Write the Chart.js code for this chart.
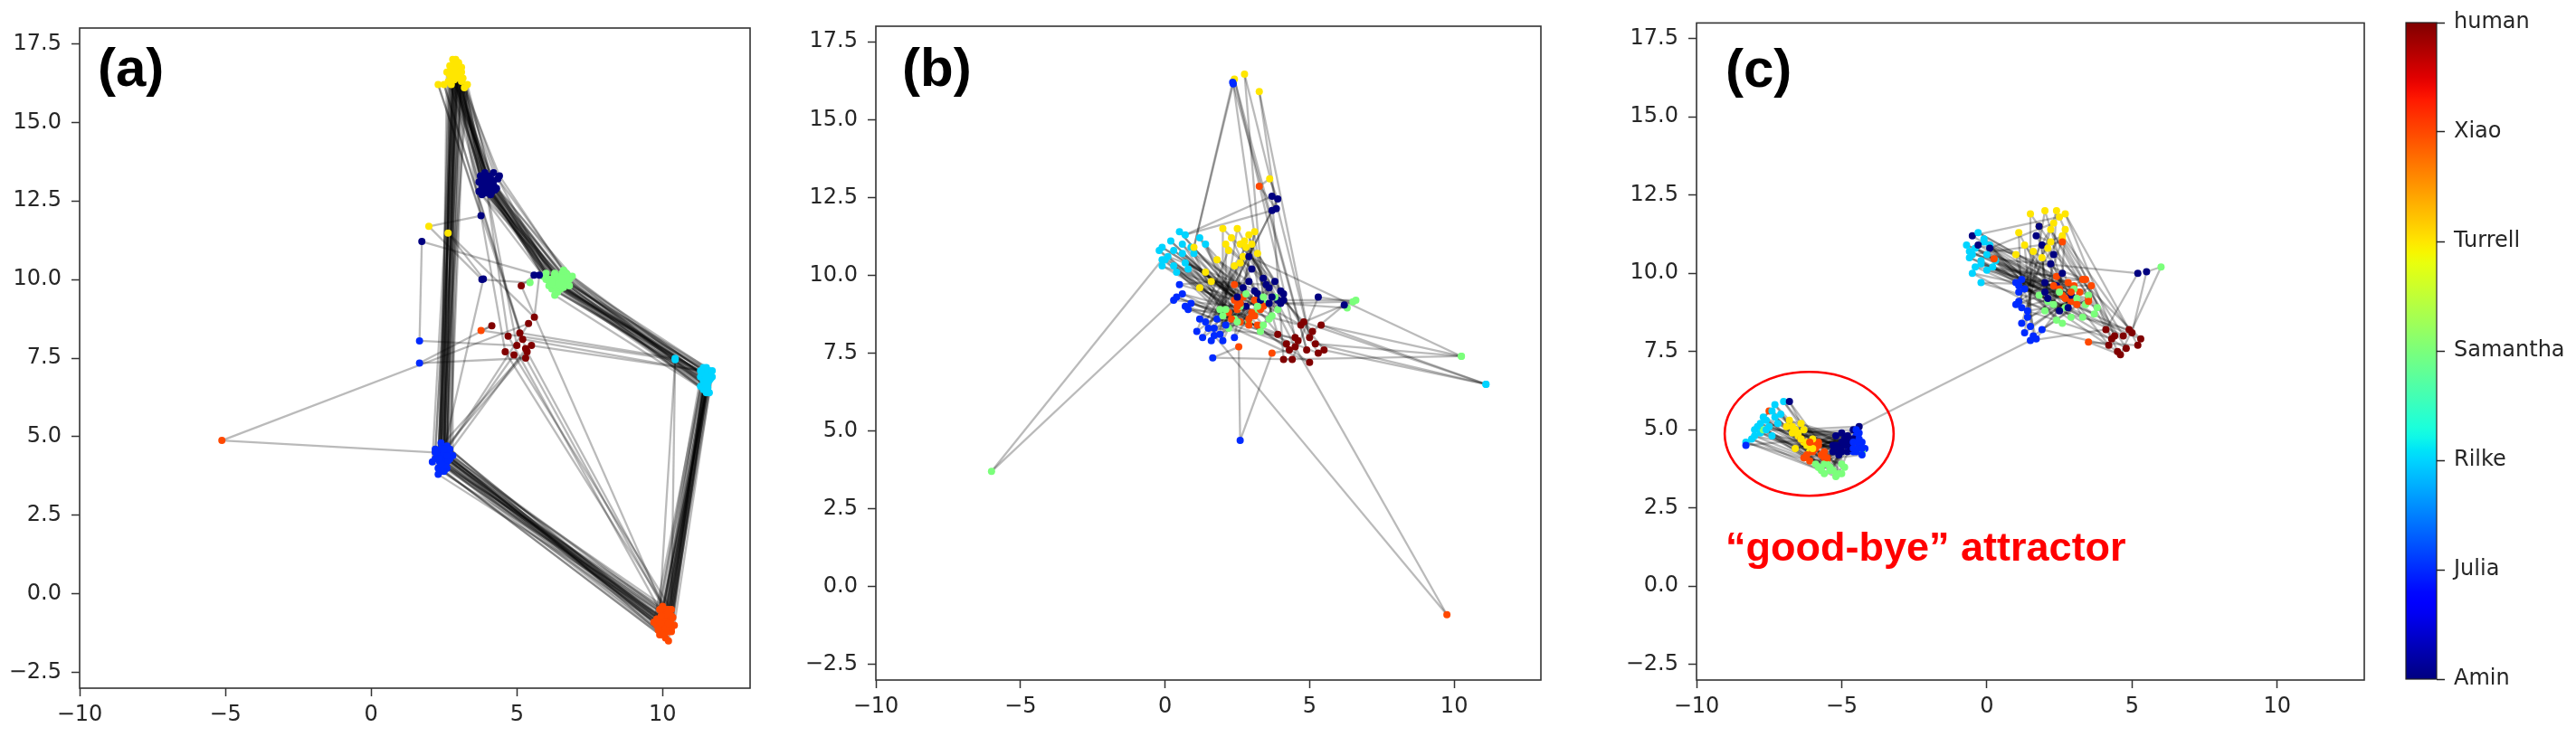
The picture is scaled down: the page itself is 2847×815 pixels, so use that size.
<!DOCTYPE html>
<html>
<head>
<meta charset="utf-8">
<script src="https://cdn.jsdelivr.net/npm/chart.js@4.4.1/dist/chart.umd.min.js"></script>
<style>
html,body{margin:0;padding:0;background:#fff;width:2847px;height:815px;overflow:hidden;}
.pane{position:absolute;top:0;height:815px;}
</style>
</head>
<body>
<div class="pane" style="left:0;width:860px"><canvas id="ca"></canvas></div>
<div class="pane" style="left:880px;width:850px"><canvas id="cb"></canvas></div>
<div class="pane" style="left:1787px;width:850px"><canvas id="cc"></canvas></div>
<div class="pane" style="left:2640px;width:207px"><canvas id="cbar"></canvas></div>
<script>
// ---------------- DATA ----------------
const speakerNames = ['Amin','Julia','Rilke','Samantha','Turrell','Xiao','human'];
const xTicks = [-10, -5, 0, 5, 10];
const yTicks = [-2.5, 0, 2.5, 5, 7.5, 10, 12.5, 15, 17.5];
const panelLabels = ['(a)', '(b)', '(c)'];
const annotationText = '“good-bye” attractor';

// Panel (a): utterance embeddings in order of the conversation
const panelA_x = [
2.85,3.9,6.3,11.5,10.1,2.4,
2.95,4.0,6.5,11.6,10.2,2.5,
2.7,3.8,6.2,11.4,9.9,2.3,
3.1,4.2,6.7,11.5,10.3,2.6,
2.8,3.7,6.0,11.6,10.0,2.2,
3.0,4.1,6.4,11.3,9.8,2.5,
2.9,3.9,6.6,11.5,10.2,2.7,
3.2,4.4,6.8,11.7,10.3,2.4,
2.6,3.8,6.3,11.4,9.9,2.1,
2.85,4.0,6.1,11.5,10.1,2.6,
3.05,3.95,6.5,11.6,10.4,2.3,
2.75,4.3,6.9,11.5,10.0,2.5,
2.9,3.7,6.2,11.3,9.7,2.4,
3.3,4.1,6.6,11.6,10.2,2.8,
2.8,3.85,6.4,11.5,10.15,2.45,
2.95,4.05,6.3,11.4,9.9,2.3,
2.7,3.9,6.7,11.7,10.3,2.6,
3.1,4.2,6.0,11.5,10.0,2.2,
2.85,3.75,6.5,11.6,10.2,2.5,
2.9,4.0,6.3,11.4,9.8,2.7,
3.15,3.9,6.8,11.5,10.3,2.4,
2.8,4.15,6.1,11.6,10.1,2.35,
2.65,3.95,6.55,11.5,10.0,2.55,
3.0,4.35,6.4,11.45,10.25,2.45,
2.75,4.0,6.45,11.55,10.05,2.5,
3.0,3.8,6.25,11.45,10.2,2.35,
2.85,4.1,6.6,11.5,9.95,2.6,
2.95,3.9,6.35,11.6,10.1,2.4,
2.8,4.25,6.7,11.4,10.35,2.55,
3.05,3.85,6.15,11.55,9.85,2.3,
2.9,4.0,6.5,11.5,10.15,2.5,
2.7,4.15,6.6,11.65,10.05,2.65,
3.1,3.95,6.3,11.45,10.25,2.4,
2.85,4.05,6.45,11.55,9.95,2.5,
2.95,3.8,6.55,11.5,10.1,2.35,
2.8,4.2,6.2,11.6,10.2,2.6,
5.3,2.5,5.1,10.43,10.3,4.9,2.6,5.4,-5.12,2.2,
5.5,11.3,5.2,2.3,3.77,1.98,3.8,5.45,5.59,5.15,
10.0,5.3,1.66,4.14,3.77,10.43,9.9,4.7,3.9,5.0,
1.66,1.74,5.9,5.77,5.6,2.64,3.85,2.5,5.35,10.2,
4.6,2.9
];
const panelA_y = [
16.8,13.1,9.9,6.9,-0.7,4.4,
16.6,12.9,10.1,6.8,-0.9,4.2,
16.5,13.2,9.7,7.0,-0.8,4.5,
16.3,13.4,10.2,6.6,-1.2,4.0,
17.0,12.8,10.0,7.1,-1.1,4.6,
16.7,12.7,9.6,6.9,-1.0,4.5,
16.4,13.0,9.8,6.5,-0.5,4.3,
16.1,13.3,10.0,6.9,-0.8,3.9,
16.6,12.7,10.2,7.2,-1.3,4.2,
16.9,13.0,9.8,6.7,-1.4,4.7,
16.5,12.8,9.7,6.4,-1.0,3.8,
16.2,12.9,10.1,7.0,-0.6,4.1,
16.7,13.1,10.0,6.6,-0.9,4.6,
16.2,13.2,10.3,6.8,-1.2,4.4,
16.6,12.9,9.9,6.95,-1.0,4.3,
16.9,13.1,9.5,6.5,-1.0,4.0,
16.8,12.75,9.9,7.1,-0.7,4.5,
16.6,13.0,10.2,6.6,-1.3,4.3,
16.4,13.3,10.0,7.0,-1.5,3.9,
17.0,12.9,10.1,6.8,-0.8,4.6,
16.4,13.4,9.8,6.4,-1.1,4.8,
16.7,12.8,10.0,6.9,-0.5,4.2,
16.3,13.05,10.2,7.2,-1.0,4.4,
16.8,13.2,9.7,6.7,-0.9,4.05,
16.5,13.3,10.0,6.75,-0.85,4.35,
16.9,12.9,9.85,6.9,-1.05,4.5,
16.35,13.0,10.1,6.6,-0.95,4.2,
16.55,13.15,9.75,7.05,-1.2,4.6,
16.75,12.85,10.05,6.75,-0.75,4.1,
16.45,13.05,9.95,6.55,-1.15,4.35,
16.65,13.25,9.9,6.95,-0.65,4.55,
16.6,12.95,9.75,6.85,-1.25,4.25,
16.75,12.9,10.15,7.1,-1.05,4.15,
16.45,13.1,9.85,6.7,-0.7,4.45,
16.85,13.0,10.05,6.8,-1.1,4.3,
16.5,13.15,9.9,6.9,-0.95,4.4,
7.8,16.2,8.3,7.49,-0.5,7.6,4.6,8.6,4.88,4.5,
7.9,7.1,8.1,16.2,12.03,11.69,10.0,9.9,10.14,9.8,
-0.4,7.5,7.34,8.53,8.38,7.45,-0.5,8.2,13.2,7.9,
8.05,11.21,10.1,10.14,8.8,11.48,10.02,4.6,7.7,-0.6,
7.7,16.6
];
const panelA_who = [
4,0,3,2,5,1, 4,0,3,2,5,1, 4,0,3,2,5,1, 4,0,3,2,5,1,
4,0,3,2,5,1, 4,0,3,2,5,1, 4,0,3,2,5,1, 4,0,3,2,5,1,
4,0,3,2,5,1, 4,0,3,2,5,1, 4,0,3,2,5,1, 4,0,3,2,5,1,
4,0,3,2,5,1, 4,0,3,2,5,1, 4,0,3,2,5,1, 4,0,3,2,5,1,
4,0,3,2,5,1, 4,0,3,2,5,1, 4,0,3,2,5,1, 4,0,3,2,5,1,
4,0,3,2,5,1, 4,0,3,2,5,1, 4,0,3,2,5,1, 4,0,3,2,5,1,
4,0,3,2,5,1, 4,0,3,2,5,1, 4,0,3,2,5,1, 4,0,3,2,5,1,
4,0,3,2,5,1, 4,0,3,2,5,1, 4,0,3,2,5,1, 4,0,3,2,5,1,
4,0,3,2,5,1, 4,0,3,2,5,1, 4,0,3,2,5,1, 4,0,3,2,5,1,
6,4,6,2,5,6,1,6,5,1,
6,2,6,4,0,4,0,3,0,6,
5,6,1,6,5,2,5,6,0,6,
1,0,3,0,6,4,0,1,6,5,
6,4
];

// Panel (b)
const panelB_x = [
2.3,3.2,3.1,0.3,2.8,1.2,
2.8,3.6,2.4,0.6,3.0,0.8,4.2,
1.8,2.9,3.5,-0.1,2.5,1.5,
3.0,3.9,2.2,0.9,3.3,1.9,
2.5,3.4,3.8,0.1,2.6,0.6,4.7,
1.4,2.6,2.9,1.2,3.1,1.3,
2.7,3.7,3.6,0.4,2.2,2.1,
2.1,3.0,1.9,-0.2,2.9,0.9,5.3,
3.2,4.1,3.3,0.7,3.4,1.6,
2.4,2.8,2.6,0.2,2.4,0.5,
1.6,3.5,3.9,1.0,3.2,1.8,3.9,
2.9,3.3,2.0,0.0,2.7,1.1,
2.2,4.0,3.4,0.5,3.0,2.4,
3.1,2.7,2.8,0.8,2.3,0.7,5.0,
1.2,3.6,3.7,-0.1,3.3,1.4,
2.6,3.1,2.5,1.4,2.6,2.0,
2.0,3.8,3.2,0.3,2.9,0.4,4.6,
2.75,2.5,2.1,0.6,3.1,1.7,
4.5,2.4,4.9,2.34,1.0,2.36,3.4,2.75,5.0,3.26,
3.85,3.26,3.62,3.9,2.4,3.7,0.7,3.7,4.1,10.25,
5.4,11.1,5.2,10.25,2.9,4.5,9.75,1.7,2.5,0.3,
-6.0,-0.1,4.3,3.7,2.6,2.55,1.65,4.4,5.3,6.5,
4.0,6.3,6.2,5.1,4.1,6.6,4.8,11.1,5.5,2.6
];
const panelB_y = [
11.2,9.4,8.8,10.8,9.0,8.6,
10.9,9.6,8.6,11.0,8.7,8.9,7.8,
10.5,9.8,9.1,10.3,8.9,8.3,
11.0,9.2,8.3,10.9,9.1,8.1,
11.5,9.9,9.3,10.6,8.5,9.4,8.4,
10.1,9.1,8.5,11.2,9.2,8.0,
10.6,9.3,8.6,10.1,8.8,8.4,
11.0,10.2,8.9,10.8,8.6,9.1,7.5,
10.7,9.4,8.2,10.4,9.0,7.9,
10.3,9.0,9.0,11.1,9.2,9.7,
9.8,9.7,8.9,10.7,8.4,8.6,8.1,
11.3,9.2,8.7,10.5,9.3,8.2,
10.8,9.5,8.4,11.4,8.8,8.0,
11.4,9.6,9.4,10.2,8.6,9.0,7.2,
9.6,9.1,8.7,10.9,8.9,8.5,
10.4,9.5,8.5,11.0,9.1,7.9,
11.5,9.8,9.0,10.3,8.4,9.3,7.9,
11.1,9.3,8.9,10.7,8.7,8.3,
8.0,16.3,7.6,16.2,10.9,16.15,9.3,16.46,8.0,15.9,
12.14,12.86,13.1,12.45,9.7,12.08,11.3,12.54,7.3,7.4,
8.4,6.5,7.8,7.4,10.6,7.7,-0.9,8.07,9.0,9.2,
3.7,10.5,7.6,7.5,4.7,7.7,7.35,7.3,9.3,9.15,
9.1,8.95,9.05,8.2,9.2,9.2,8.5,6.5,7.6,11.0
];
const panelB_who = [
4,0,3,2,5,1,
4,0,3,2,5,1,6,
4,0,3,2,5,1,
4,0,3,2,5,1,
4,0,3,2,5,1,6,
4,0,3,2,5,1,
4,0,3,2,5,1,
4,0,3,2,5,1,6,
4,0,3,2,5,1,
4,0,3,2,5,1,
4,0,3,2,5,1,6,
4,0,3,2,5,1,
4,0,3,2,5,1,
4,0,3,2,5,1,6,
4,0,3,2,5,1,
4,0,3,2,5,1,
4,0,3,2,5,1,6,
4,0,3,2,5,1,
6,4,6,1,4,1,3,4,6,4,
0,5,4,0,5,0,2,0,6,3,
6,2,6,3,0,6,5,1,5,1,
3,2,6,5,1,5,1,6,0,3,
0,3,0,6,0,3,6,2,6,4
];

// Panel (c)
const panelC_x = [
1.8,2.0,2.7,-0.4,3.0,1.1,
2.2,1.7,3.3,-0.2,2.6,1.2,
1.1,2.5,2.1,0.1,3.4,1.0,4.5,
2.5,-0.5,3.7,-0.6,2.9,1.4,
1.6,2.2,2.4,-0.1,3.2,1.3,
2.0,2.9,3.1,0.2,2.4,1.1,4.9,
2.6,1.9,2.0,-0.5,3.5,1.6,
1.3,2.4,3.5,-0.3,2.8,1.2,
2.3,0.1,2.6,0.0,3.1,1.9,4.2,
1.9,2.1,3.0,-0.7,2.5,1.0,
2.7,2.6,2.3,-0.2,3.6,1.5,
1.5,1.8,3.8,0.3,2.7,1.3,5.3,
2.1,2.8,1.8,-0.4,3.3,1.2,
2.4,2.3,2.9,-0.1,2.9,1.7,
1.0,-0.3,3.4,0.0,2.3,1.1,4.7,
2.6,2.0,2.5,-0.6,3.5,1.4,
4.3,2.2,4.8,-0.2,5.0,5.5,6.0,4.6,3.5,5.2,
2.7,4.4,2.6,-0.5,0.25,5.2,4.1,1.5,
-4.4,
-6.6,-5.0,-5.3,-7.6,-6.0,-4.5,
-6.3,-4.8,-5.6,-7.3,-5.7,-4.3,
-6.8,-5.3,-5.0,-7.8,-6.2,-4.6,
-6.1,-4.6,-5.8,-7.1,-5.5,-4.4,
-6.5,-5.1,-5.2,-8.1,-6.3,-4.2,
-6.9,-4.9,-4.3,-7.5,-5.9,-4.8,
-6.2,-5.2,-5.5,-7.0,-5.6,-4.5,
-6.7,-4.7,-5.7,-8.3,-6.1,-4.3,
-6.4,-6.8,-5.0,-7.7,-5.8,-4.7,
-6.6,-5.0,-7.7,-7.2,-6.4,-4.4,
-6.3,-4.8,-5.4,-8.0,-7.5,-8.3,
-6.0,-5.3,-5.9,-7.4,-5.6,-4.6,
-6.5,-4.9,-5.4,-7.9,-6.0,-4.4,
-6.2,-5.1,-5.8,-7.4,-5.8,-4.5,
-6.7,-4.6,-5.1,-7.6,-6.2,-4.3,
-6.4,-5.0,-5.6,-8.0,-5.9,-4.6,
-6.0,-4.8,-5.3,-7.3,-5.5,-4.4,
-6.6,-5.2,-4.9,-7.8,-6.1,-4.5
];
const panelC_y = [
11.5,9.7,8.9,10.8,9.6,9.4,
11.0,11.2,8.6,10.3,9.3,8.9,
11.3,8.8,9.1,10.9,9.8,9.7,7.5,
11.8,11.2,8.7,10.5,9.1,8.6,
10.7,10.3,8.5,11.1,9.4,8.1,
12.0,9.3,9.2,10.2,9.9,9.1,8.2,
11.2,10.9,8.8,10.0,9.2,8.0,
10.9,9.6,9.3,11.3,9.7,9.8,
11.6,10.8,8.4,10.6,9.0,8.2,7.7,
10.5,9.2,9.5,10.9,9.5,9.0,
11.4,10.0,9.0,9.7,9.6,8.3,
11.9,11.5,8.9,10.4,9.2,9.5,7.9,
10.8,8.9,9.3,10.2,9.8,8.4,
12.0,10.6,8.6,11.0,9.4,7.9,
10.6,10.9,9.0,10.1,9.6,9.6,8.0,
11.1,9.4,9.4,10.7,9.1,8.8,
7.9,11.4,7.6,10.4,8.1,10.05,10.2,7.4,7.8,7.7,
11.9,8.0,11.0,10.6,10.46,10.0,8.2,7.85,
5.1,
5.0,4.6,3.7,5.3,4.4,4.8,
4.6,4.3,3.6,5.8,4.2,4.6,
5.3,4.5,3.9,4.9,4.6,4.3,
4.3,5.0,3.8,5.5,4.0,4.9,
4.8,4.2,3.5,4.7,4.1,4.4,
5.1,4.7,4.3,5.1,4.5,4.5,
4.5,4.8,3.9,5.9,4.3,5.0,
4.9,4.4,3.7,4.6,4.0,4.2,
5.2,5.9,3.6,5.4,4.6,4.7,
4.4,4.9,5.0,5.2,4.7,4.5,
5.0,4.6,3.8,5.0,5.6,4.5,
4.7,4.3,3.9,4.8,4.1,4.4,
4.9,4.5,3.7,5.1,4.3,4.6,
4.6,4.4,3.8,5.6,4.5,4.8,
5.1,4.7,3.6,5.0,4.2,4.4,
4.7,4.3,3.9,4.8,4.4,4.6,
4.4,4.8,3.7,5.4,4.1,4.7,
5.0,4.5,3.8,5.2,4.6,4.3
];
const panelC_who = [
4,0,3,2,5,1,
4,0,3,2,5,1,
4,0,3,2,5,1,6,
4,0,3,2,5,1,
4,0,3,2,5,1,
4,0,3,2,5,1,6,
4,0,3,2,5,1,
4,0,3,2,5,1,
4,0,3,2,5,1,6,
4,0,3,2,5,1,
4,0,3,2,5,1,
4,0,3,2,5,1,6,
4,0,3,2,5,1,
4,0,3,2,5,1,
4,0,3,2,5,1,6,
4,0,3,2,5,1,
6,4,6,2,6,0,3,6,5,6,
4,6,5,2,5,0,6,1,
0,
4,0,3,2,5,1, 4,0,3,2,5,1, 4,0,3,2,5,1, 4,0,3,2,5,1,
4,0,3,2,5,1, 4,0,3,2,5,1, 4,0,3,2,5,1, 4,0,3,2,5,1,
4,0,3,2,5,1, 4,0,3,2,5,1, 4,0,3,2,5,1, 4,0,3,2,5,1,
4,0,3,2,5,1, 4,0,3,2,5,1, 4,0,3,2,5,1, 4,0,3,2,5,1,
4,0,3,2,5,1, 4,0,3,2,5,1
];

// ---------------- COLOURS (jet colormap) ----------------
const JET_R = [[0,0],[0.35,0],[0.66,1],[0.89,1],[1,0.5]];
const JET_G = [[0,0],[0.125,0],[0.375,1],[0.64,1],[0.91,0],[1,0]];
const JET_B = [[0,0.5],[0.11,1],[0.34,1],[0.65,0],[1,0]];
function chan(t, pts){
  for (let i = 0; i < pts.length - 1; i++) {
    const [x0, v0] = pts[i], [x1, v1] = pts[i + 1];
    if (t <= x1) return v0 + (v1 - v0) * (t - x0) / (x1 - x0);
  }
  return pts[pts.length - 1][1];
}
function jet(t){
  return 'rgb(' + Math.round(255 * chan(t, JET_R)) + ',' + Math.round(255 * chan(t, JET_G)) + ',' + Math.round(255 * chan(t, JET_B)) + ')';
}
const speakerColors = speakerNames.map((_, i) => jet(i / (speakerNames.length - 1)));

// ---------------- PLUGINS ----------------
const TICK_FONT = {family: '"DejaVu Sans", sans-serif', size: 24};
const TICK_COLOR = '#262626';

const framePlugin = {
  id: 'frame',
  afterDraw(chart) {
    const {ctx, chartArea: a} = chart;
    ctx.save();
    ctx.strokeStyle = '#333';
    ctx.lineWidth = 1.6;
    ctx.strokeRect(a.left, a.top, a.right - a.left, a.bottom - a.top);
    ctx.restore();
  }
};
const labelPlugin = {
  id: 'panelLabel',
  afterDraw(chart, args, o) {
    const {ctx, chartArea: a} = chart;
    ctx.save();
    ctx.font = 'bold 60px "Liberation Sans", Arial, sans-serif';
    ctx.fillStyle = '#000';
    ctx.textBaseline = 'alphabetic';
    ctx.textAlign = 'left';
    ctx.fillText(o.text, a.left + o.dx, a.top + o.dy);
    ctx.restore();
  }
};
const goodbyePlugin = {
  id: 'goodbye',
  afterDraw(chart, args, o) {
    const {ctx} = chart;
    const xs = chart.scales.x, ys = chart.scales.y;
    const cx = xs.getPixelForValue(o.cx), cy = ys.getPixelForValue(o.cy);
    const rx = Math.abs(xs.getPixelForValue(o.cx + o.rx) - cx);
    const ry = Math.abs(ys.getPixelForValue(o.cy + o.ry) - cy);
    ctx.save();
    ctx.beginPath();
    ctx.ellipse(cx, cy, rx, ry, 0, 0, 2 * Math.PI);
    ctx.strokeStyle = '#ff0000';
    ctx.lineWidth = 2.6;
    ctx.stroke();
    ctx.font = 'bold 45px "Liberation Sans", Arial, sans-serif';
    ctx.fillStyle = '#ff0000';
    ctx.textBaseline = 'alphabetic';
    ctx.textAlign = 'left';
    ctx.fillText(o.text, xs.getPixelForValue(o.tx), ys.getPixelForValue(o.ty));
    ctx.restore();
  }
};
const colorbarPlugin = {
  id: 'colorbar',
  beforeDatasetsDraw(chart) {
    const {ctx, chartArea: a} = chart;
    const g = ctx.createLinearGradient(0, a.bottom, 0, a.top);
    for (let k = 0; k <= 60; k++) g.addColorStop(k / 60, jet(k / 60));
    ctx.save();
    ctx.fillStyle = g;
    ctx.fillRect(a.left, a.top, a.right - a.left, a.bottom - a.top);
    ctx.strokeStyle = '#222';
    ctx.lineWidth = 1.2;
    ctx.strokeRect(a.left, a.top, a.right - a.left, a.bottom - a.top);
    ctx.restore();
  }
};

function fmtNum(v, dec) {
  const s = Math.abs(v).toFixed(dec);
  return (v < 0 ? '\u2212' : '') + s;
}

// ---------------- PANELS ----------------
function makePanel(id, xs, ys, who, cfg) {
  const pts = xs.map((v, i) => ({x: v, y: ys[i]}));
  const datasets = [{
    data: pts,
    pointBackgroundColor: who.map(w => speakerColors[w]),
    pointBorderWidth: 0,
    pointRadius: 4,
    showLine: false,
    order: 0
  }];
  for (let i = 0; i < pts.length - 1; i++) {
    datasets.push({
      data: [pts[i], pts[i + 1]],
      showLine: true,
      borderColor: 'rgba(0,0,0,0.27)',
      borderWidth: 2.3,
      pointRadius: 0,
      order: 1
    });
  }
  return new Chart(document.getElementById(id), {
    type: 'scatter',
    data: {datasets},
    options: {
      responsive: true,
      maintainAspectRatio: false,
      animation: false,
      events: [],
      devicePixelRatio: 1,
      layout: {padding: {top: cfg.top, right: cfg.right, left: 0, bottom: 0}},
      plugins: {
        legend: {display: false},
        tooltip: {enabled: false},
        panelLabel: {text: cfg.label, dx: cfg.dx, dy: cfg.dy},
        goodbye: cfg.goodbye || false
      },
      scales: {
        x: {
          type: 'linear', min: -10, max: 13,
          afterBuildTicks: s => { s.ticks = xTicks.map(v => ({value: v})); },
          afterFit: s => { s.height = cfg.xh; },
          ticks: {font: TICK_FONT, color: TICK_COLOR, padding: 6, autoSkip: false, maxRotation: 0,
                  callback: v => fmtNum(v, 0)},
          grid: {drawOnChartArea: false, drawTicks: true, tickLength: 9, tickWidth: 1.5, tickColor: '#333'},
          border: {display: false}
        },
        y: {
          type: 'linear', min: -3, max: 18,
          afterBuildTicks: s => { s.ticks = yTicks.map(v => ({value: v})); },
          afterFit: s => { s.width = cfg.yw; },
          ticks: {font: TICK_FONT, color: TICK_COLOR, padding: 11, autoSkip: false,
                  callback: v => fmtNum(v, 1)},
          grid: {drawOnChartArea: false, drawTicks: true, tickLength: 9, tickWidth: 1.5, tickColor: '#333'},
          border: {display: false}
        }
      }
    },
    plugins: [framePlugin, labelPlugin, goodbyePlugin]
  });
}

makePanel('ca', panelA_x, panelA_y, panelA_who,
  {top: 31, right: 31, xh: 54, yw: 88, label: panelLabels[0], dx: 20, dy: 64});
makePanel('cb', panelB_x, panelB_y, panelB_who,
  {top: 29, right: 27, xh: 63, yw: 88, label: panelLabels[1], dx: 29, dy: 66});
makePanel('cc', panelC_x, panelC_y, panelC_who,
  {top: 24, right: 24, xh: 63, yw: 88, label: panelLabels[2], dx: 32, dy: 71,
   goodbye: {cx: -6.12, cy: 4.87, rx: 2.91, ry: 1.98, tx: -9.0, ty: 0.81, text: annotationText}});

// ---------------- COLOURBAR ----------------
new Chart(document.getElementById('cbar'), {
  type: 'scatter',
  data: {datasets: []},
  options: {
    responsive: true,
    maintainAspectRatio: false,
    animation: false,
    events: [],
    devicePixelRatio: 1,
    layout: {padding: {top: 25, left: 19, bottom: 64, right: 0}},
    plugins: {legend: {display: false}, tooltip: {enabled: false}},
    scales: {
      x: {display: false, min: 0, max: 1},
      y: {
        position: 'right', min: 0, max: speakerNames.length - 1,
        afterBuildTicks: s => { s.ticks = speakerNames.map((_, i) => ({value: i})); },
        afterFit: s => { s.width = 154; },
        ticks: {font: TICK_FONT, color: TICK_COLOR, padding: 10, autoSkip: false,
                callback: v => speakerNames[v]},
        grid: {drawOnChartArea: false, drawTicks: true, tickLength: 9, tickWidth: 1.5, tickColor: '#222'},
        border: {display: false}
      }
    }
  },
  plugins: [colorbarPlugin]
});
</script>
</body>
</html>
